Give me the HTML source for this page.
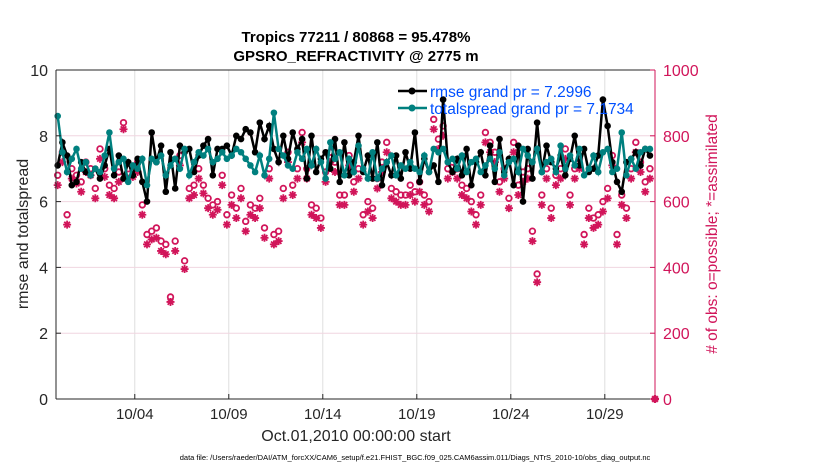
<!DOCTYPE html>
<html><head><meta charset="utf-8"><style>
body{margin:0;background:#fff;width:830px;height:470px;overflow:hidden;font-family:"Liberation Sans",sans-serif}
svg text{font-family:"Liberation Sans",sans-serif}
</style></head><body>
<svg id="c" width="830" height="470"></svg>
<script>
const rmse=[7.1,7.8,7.4,6.5,6.6,7.2,6.9,6.8,7.0,6.7,7.1,7.6,6.8,7.4,6.7,7.2,6.8,7.3,6.6,6.0,8.1,7.2,7.7,6.3,7.5,6.4,7.7,7.5,7.6,6.9,7.4,7.7,7.9,6.8,7.6,7.6,7.7,7.4,8.0,7.9,8.2,8.1,7.5,8.4,7.9,8.3,7.6,7.2,8.0,7.3,8.1,7.6,7.9,6.7,8.0,6.9,7.3,7.5,7.0,7.9,6.6,7.8,6.8,7.2,8.0,6.9,7.4,6.7,7.8,6.5,7.2,6.8,7.4,6.7,7.5,7.0,8.1,6.6,7.3,6.9,7.1,6.6,9.1,7.2,6.9,7.3,6.8,7.6,6.5,7.2,7.5,6.8,7.7,6.6,7.9,6.9,7.3,6.5,7.7,6.0,7.6,6.7,8.4,6.9,7.7,7.2,7.0,7.4,6.8,7.3,8.0,7.1,7.6,6.9,7.0,7.4,9.1,8.3,7.2,6.6,6.3,7.2,7.3,7.5,7.1,7.6,7.4];
const spread=[8.6,7.5,6.9,7.3,7.6,7.0,7.2,6.8,7.0,6.9,7.4,8.1,7.0,7.2,7.3,6.6,7.1,7.0,7.3,6.5,7.3,7.2,7.4,6.8,7.1,7.3,7.0,7.6,6.8,7.2,7.5,7.4,7.6,7.2,7.3,7.5,7.3,7.4,7.6,7.5,7.3,7.1,6.9,7.4,6.8,7.3,8.7,7.6,7.4,7.1,7.0,7.5,7.3,7.6,7.1,7.6,7.2,6.7,7.8,7.3,7.5,6.8,7.3,6.9,7.7,7.0,6.7,7.5,6.7,7.0,7.2,7.4,6.8,7.1,7.0,7.2,7.0,6.9,7.4,6.9,7.6,7.5,7.6,7.2,7.3,7.0,7.4,6.9,7.2,7.3,6.9,7.1,7.3,7.0,7.5,6.8,7.2,7.3,6.9,7.6,7.4,7.2,7.6,6.9,7.2,7.3,6.9,7.7,7.0,7.4,7.1,7.6,6.8,7.0,7.4,6.9,7.5,7.6,6.9,7.0,8.1,6.8,7.3,7.0,7.5,7.6,7.6];
const possible=[680,750,560,700,680,660,720,700,640,760,700,650,640,690,840,700,700,720,590,500,510,520,480,470,310,480,740,420,640,650,700,650,610,590,600,680,560,620,580,640,540,590,580,610,520,700,500,510,640,750,650,700,810,700,590,580,550,690,750,720,620,620,740,660,700,560,600,580,670,720,780,640,630,620,620,650,630,660,620,600,850,790,830,700,720,700,650,640,600,560,620,810,780,750,660,700,610,780,650,690,700,510,380,620,700,580,680,700,760,620,700,730,500,580,550,560,600,640,740,500,620,580,700,780,720,660,700];
const assim=[650,720,530,670,655,630,690,680,610,730,675,620,610,660,820,670,675,690,560,470,485,490,450,440,295,450,710,395,610,620,670,625,580,560,575,650,530,590,550,610,510,560,550,580,490,670,470,480,610,720,620,670,780,670,560,550,520,660,720,690,590,590,710,630,670,530,570,550,640,690,750,610,600,590,590,620,600,630,590,570,820,760,800,670,690,670,620,610,570,530,590,780,750,720,630,670,580,750,620,660,670,480,355,590,670,550,650,670,730,590,670,700,470,550,520,530,570,610,710,470,590,550,670,750,690,630,670];
const xTicks=["10/04","10/09","10/14","10/19","10/24","10/29"];
const xTickDays=[3,8,13,18,23,28];
const yTicks=[0,2,4,6,8,10];
const y2Ticks=[0,200,400,600,800,1000];
const t0=-1.1, dt=0.25;

const NS="http://www.w3.org/2000/svg", svg=document.getElementById('c');
const L=56,R=655,T=70,B=399, DMIN=-1.19, DMAX=30.67;
const X=d=>L+(d-DMIN)/(DMAX-DMIN)*(R-L);
const Y=v=>B-v/10*(B-T);
const Y2=v=>B-v/1000*(B-T);
const RED="#d1155a", TEAL="#00807f";
function el(tag,a,p){const e=document.createElementNS(NS,tag);for(const k in a)e.setAttribute(k,a[k]);(p||svg).appendChild(e);return e;}
function txt(s,a,p){const e=el('text',a,p);e.textContent=s;return e;}
function starPath(x,y,r){let d="";for(let k=0;k<4;k++){const a=k*Math.PI/4;const dx=r*Math.cos(a),dy=r*Math.sin(a);d+=`M${x-dx},${y-dy}L${x+dx},${y+dy}`;}return d;}
xTickDays.forEach((d,i)=>{const l=el('line',{x1:X(d),x2:X(d),y1:T,y2:B,stroke:"#dedede"});});
y2Ticks.forEach(v=>{const l=el('line',{x1:L,x2:R,y1:Y2(v),y2:Y2(v),stroke:"#f0d6e0"});});
const gO=el('g',{});
possible.forEach((v,i)=>{const c=el('circle',{cx:X(t0+i*dt),cy:Y2(v),r:2.8,fill:"none",stroke:RED,"stroke-width":1.8},gO);});
assim.forEach((v,i)=>{const p=el('path',{d:starPath(X(t0+i*dt),Y2(v),4),stroke:RED,"stroke-width":1.8,fill:"none"},gO);});
function series(arr,col,name){const g=el('g',{});
 el('polyline',{points:arr.map((v,i)=>X(t0+i*dt)+","+Y(v)).join(" "),fill:"none",stroke:col,"stroke-width":2.5},g);
 arr.forEach((v,i)=>{const c=el('circle',{cx:X(t0+i*dt),cy:Y(v),r:3.3,fill:col},g);});}
series(rmse,"#000","rmse-series");
series(spread,TEAL,"spread-series");
el('line',{x1:L,x2:R,y1:T,y2:T,stroke:"#262626"});
el('line',{x1:L,x2:R,y1:B,y2:B,stroke:"#262626"});
el('line',{x1:L,x2:L,y1:T,y2:B,stroke:"#262626"});
el('line',{x1:R,x2:R,y1:T,y2:B,stroke:RED});
const z=el('path',{d:starPath(R,B,4),stroke:RED,"stroke-width":2.2});
el('circle',{cx:R,cy:B,r:2.5,fill:RED});
xTickDays.forEach((d,i)=>{el('line',{x1:X(d),x2:X(d),y1:B,y2:B-5,stroke:"#262626"});const t=txt(xTicks[i],{x:X(d),y:B+20,"text-anchor":"middle","font-size":15,fill:"#262626"});});
yTicks.forEach(v=>{el('line',{x1:L,x2:L+5,y1:Y(v),y2:Y(v),stroke:"#262626"});const t=txt(String(v),{x:L-8,y:Y(v)+6,"text-anchor":"end","font-size":16,fill:"#262626"});});
y2Ticks.forEach(v=>{el('line',{x1:R,x2:R-5,y1:Y2(v),y2:Y2(v),stroke:RED});const t=txt(String(v),{x:R+8,y:Y2(v)+6,"font-size":16,fill:RED});});
</script>
<svg width="830" height="470" style="position:absolute;left:0;top:0">
<text x="356" y="42" text-anchor="middle" font-size="15" font-weight="bold">Tropics 77211 / 80868 = 95.478%</text>
<text x="356" y="61" text-anchor="middle" font-size="15" font-weight="bold">GPSRO_REFRACTIVITY @ 2775 m</text>
<text transform="translate(28,234) rotate(-90)" text-anchor="middle" font-size="16" fill="#262626">rmse and totalspread</text>
<text transform="translate(717,234) rotate(-90)" text-anchor="middle" font-size="15.5" fill="#d1155a"># of obs: o=possible; *=assimilated</text>
<text x="356" y="441" text-anchor="middle" font-size="16" fill="#262626">Oct.01,2010 00:00:00 start</text>
<text x="415" y="460" text-anchor="middle" font-size="7.5">data file: /Users/raeder/DAI/ATM_forcXX/CAM6_setup/f.e21.FHIST_BGC.f09_025.CAM6assim.011/Diags_NTrS_2010-10/obs_diag_output.nc</text>
<g>
<line x1="398" x2="427" y1="91" y2="91" stroke="#000" stroke-width="2.5"/><circle cx="412" cy="91" r="3.5" fill="#000"/>
<text x="430" y="97" font-size="15.5" fill="#0050ff">rmse grand pr = 7.2996</text>
<line x1="398" x2="427" y1="108" y2="108" stroke="#00807f" stroke-width="2.5"/><circle cx="412" cy="108" r="3.5" fill="#00807f"/>
<text x="430" y="114" font-size="15.5" fill="#0050ff">totalspread grand pr = 7.1734</text>
</g>
</svg>
</body></html>
